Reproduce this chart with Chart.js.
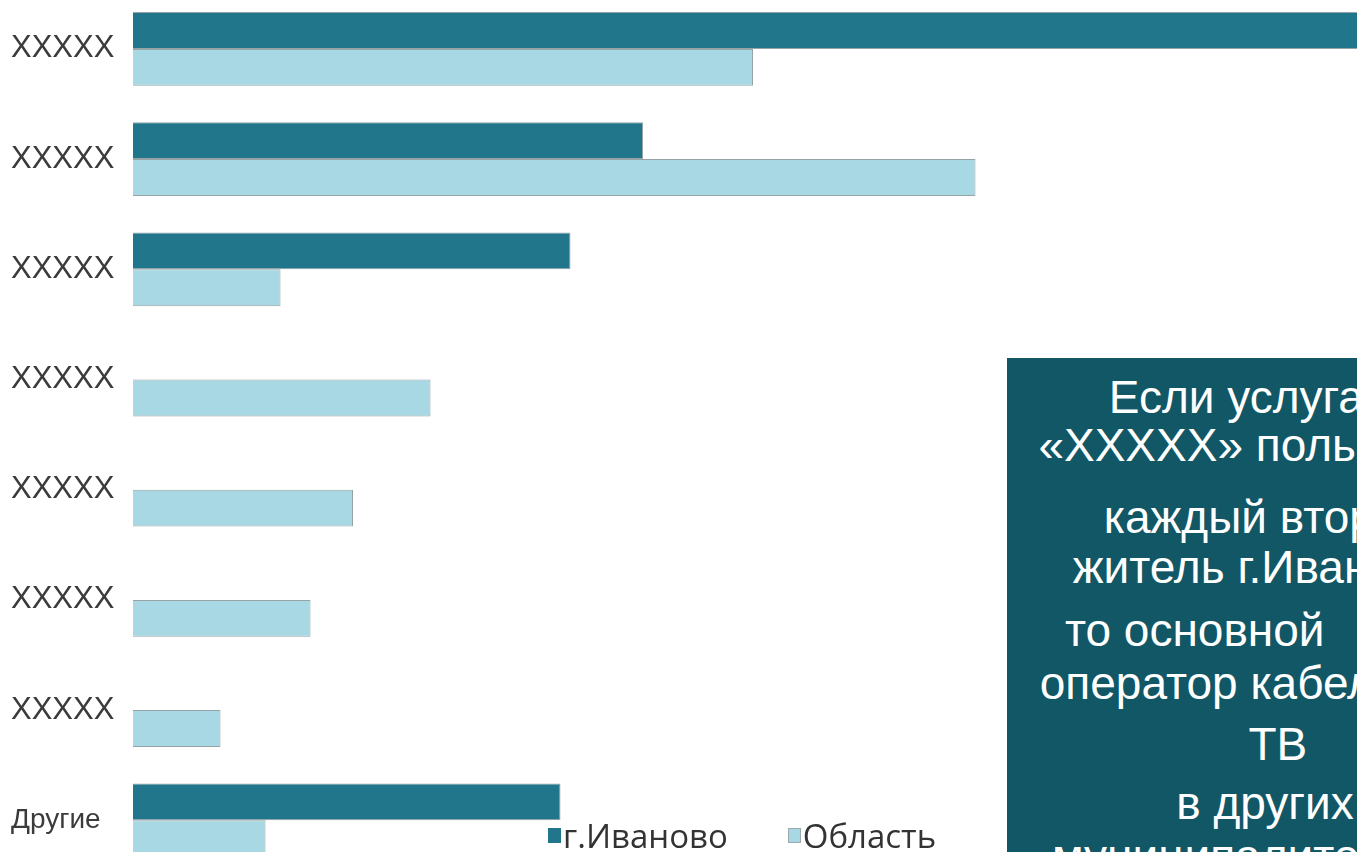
<!DOCTYPE html>
<html lang="ru">
<head>
<meta charset="utf-8">
<title>Кабельное ТВ</title>
<script src="https://cdn.jsdelivr.net/npm/chart.js@4.4.1/dist/chart.umd.min.js"></script>
<style>
  html, body { margin:0; padding:0; background:#fff; overflow:hidden; width:1357px; height:852px; }
  #wrap { position:absolute; left:0; top:-23px; width:1508px; height:917px; }
  #legend { position:absolute; left:548px; top:813px; font-family:"Open Sans", sans-serif; font-size:33px; color:#333; display:flex; align-items:center; white-space:nowrap; }
  #legend .sw { display:inline-block; width:13px; height:15px; margin-right:2px; box-sizing:border-box; }
  #legend .item { display:flex; align-items:center; margin-right:60px; }
  #note { position:absolute; left:1007px; top:358px; width:516px; height:600px; background:#115766; color:#fff;
          font-family:"Liberation Sans", Arial, sans-serif; font-size:46px; }
  #note div { position:absolute; left:0; right:0; height:50px; line-height:50px; text-align:center; white-space:pre; }
</style>
</head>
<body>
<div id="wrap"><canvas id="chart" width="1508" height="917"></canvas></div>
<div id="legend"></div>
<div id="note"></div>
<script>
// categories (top to bottom)
const categories = ['XXXXX','XXXXX','XXXXX','XXXXX','XXXXX','XXXXX','XXXXX','Другие'];
const seriesNames = ['г.Иваново','Область'];
// values, % (null = no bar)
const ivanovo = [50, 20.4, 17.5, null, null, null, null, 17.1];
const oblast  = [24.8, 33.7, 5.9, 11.9, 8.8, 7.1, 3.5, 5.3];
const colors  = ['#21768b', '#a7d8e3'];

// callout text, line by line (spaces kept as typed)
const noteLines = ['Если услугами', '«XXXXX» пользуется', 'каждый второй', 'житель г.Иваново,',
  'то основной           ', 'оператор кабельного', '  ТВ', 'в других', 'муниципалитетах    '];
const noteTops = [14, 62, 134, 184, 247, 300, 361, 420, 473];

const ctx = document.getElementById('chart');
new Chart(ctx, {
  type: 'bar',
  data: {
    labels: categories,
    datasets: [ivanovo, oblast].map((d, i) => ({
      label: seriesNames[i], data: d,
      backgroundColor: colors[i], borderColor: '#97a4a7', borderWidth: 1,
      categoryPercentage: 0.67, barPercentage: 1.0
    }))
  },
  options: {
    indexAxis: 'y', responsive: false, animation: false, devicePixelRatio: 1,
    layout: { padding: { left: 11, right: 0, top: 0, bottom: 0 } },
    plugins: { legend: { display: false }, tooltip: { enabled: false } },
    scales: {
      x: { display: false, min: 0, max: 55 },
      y: {
        grid: { display: false, drawTicks: false }, border: { display: false },
        ticks: {
          crossAlign: 'far', padding: 0, color: '#3b3b3b',
          font: c => ({ family: "'Liberation Sans', Arial", size: categories[c.index] === 'Другие' ? 28 : 31 })
        },
        afterFit: s => { s.width = 122; }
      }
    }
  }
});

// legend
document.getElementById('legend').innerHTML = seriesNames.map((n, i) =>
  `<span class="item"><span class="sw" style="background:${colors[i]};border:1px solid ${i ? '#9aa9ac' : colors[i]}"></span>${n}</span>`
).join('');

// callout
document.getElementById('note').innerHTML = noteLines.map((l, i) =>
  `<div style="top:${noteTops[i]}px">${l.replace(/ /g, '\u00a0')}</div>`
).join('');
</script>
</body>
</html>
